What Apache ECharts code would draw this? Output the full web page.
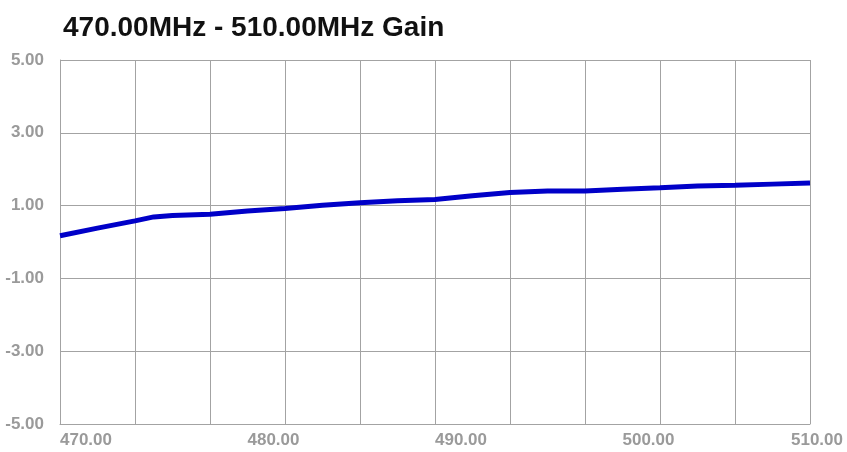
<!DOCTYPE html>
<html><head><meta charset="utf-8">
<script src="https://cdn.jsdelivr.net/npm/echarts@6/dist/echarts.min.js"></script>
<style>html,body{margin:0;padding:0;background:#fff}#c{width:847px;height:452px}</style>
</head><body><div id="c"></div>
<script>
var titleText = "470.00MHz - 510.00MHz Gain";
var freqs = [470,472,474,475,476,478,480,482,484,486,488,490,492,494,496,498,500,502,504,506,508,510];
var gains = [0.17,0.38,0.58,0.69,0.73,0.76,0.85,0.92,1.01,1.08,1.13,1.17,1.27,1.36,1.40,1.40,1.45,1.49,1.54,1.56,1.59,1.62];
var yMin = -5, yMax = 5, yStep = 2;
var xMin = 470, xMax = 510, xLabelStep = 10, xGridStep = 4;

var chart = echarts.init(document.getElementById('c'), null, {renderer:'canvas'});
var grey = '#a3a3a3';
var labelFont = {color:'#9a9a9a', fontFamily:'Liberation Sans, Arial, sans-serif', fontSize:17, fontWeight:'bold'};
chart.setOption({
  animation:false,
  backgroundColor:'#fff',
  title:{text:titleText, left:58, top:9,
    textStyle:{fontFamily:'Liberation Sans, Arial, sans-serif', fontSize:28, fontWeight:'bold', color:'#111'}},
  grid:{left:60, right:37, top:60, bottom:28, containLabel:false},
  xAxis:[
    {type:'value', min:xMin, max:xMax, interval:xLabelStep,
     axisLine:{show:true, onZero:false, lineStyle:{color:grey, width:1}}, axisTick:{show:false},
     splitLine:{show:false},
     axisLabel:Object.assign({margin:8, align:'left', alignMaxLabel:'center',
       formatter:function(v){var s=v.toFixed(2); return v===xMax ? '{r|'+s+'}' : s;},
       rich:{r:Object.assign({padding:[0,0,0,14]}, labelFont)}}, labelFont)},
    {type:'value', min:xMin, max:xMax, interval:xGridStep, position:'bottom',
     axisLine:{show:false}, axisTick:{show:false}, axisLabel:{show:false},
     splitLine:{show:true, lineStyle:{color:grey, width:1}}}
  ],
  yAxis:{type:'value', min:yMin, max:yMax, interval:yStep,
    axisLine:{show:true, onZero:false, lineStyle:{color:grey, width:1}}, axisTick:{show:false},
    splitLine:{show:true, lineStyle:{color:grey, width:1}},
    axisLabel:Object.assign({margin:16, verticalAlign:'middle', padding:[0,0,10,0],
      formatter:function(v){return v.toFixed(2);}}, labelFont)},
  series:[{type:'line', xAxisIndex:0, data:freqs.map(function(f,i){return [f,gains[i]];}),
    showSymbol:false, symbol:'none', lineStyle:{color:'#0000c8', width:5}, z:5}]
});
</script></body></html>
